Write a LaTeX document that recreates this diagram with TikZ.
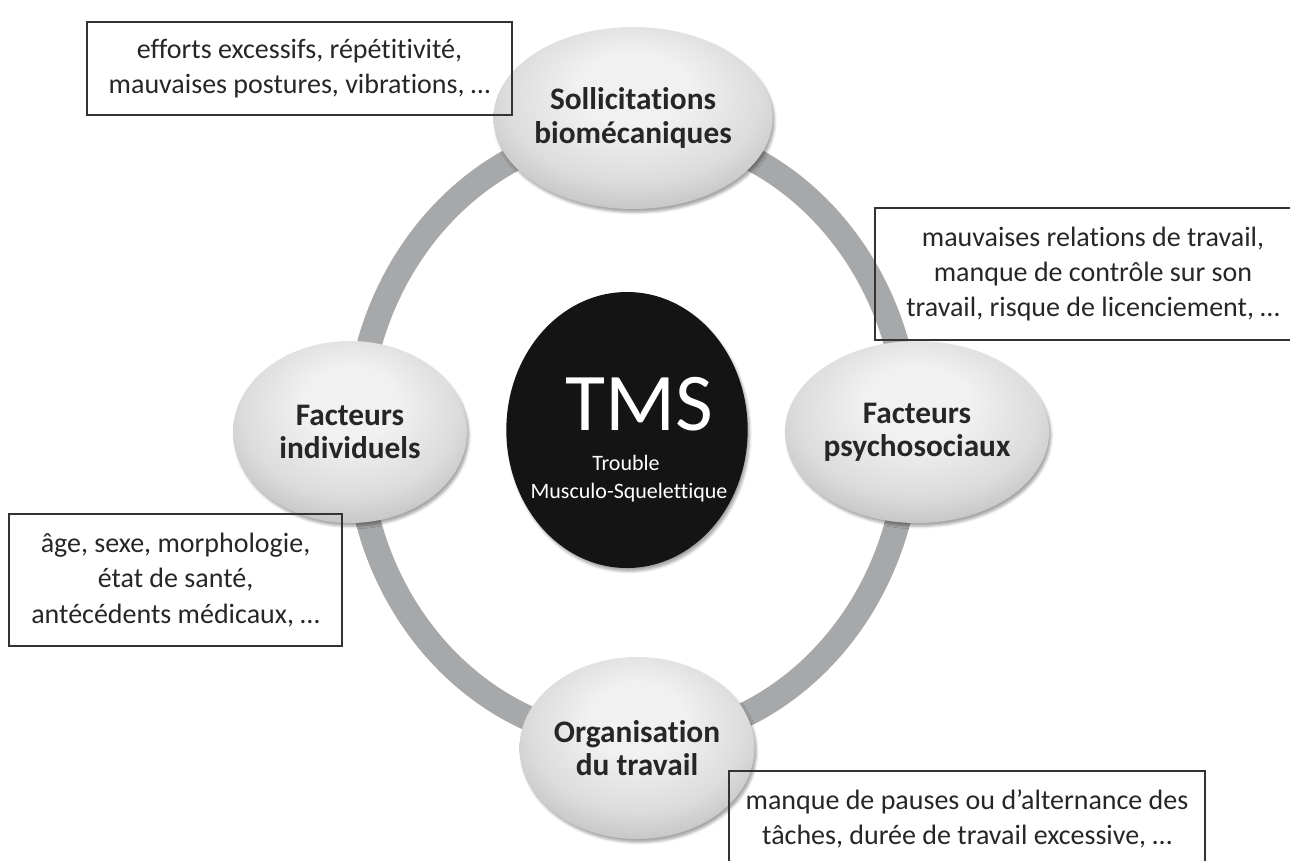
\documentclass[tikz,border=0pt]{standalone}
\usepackage{fontspec}
\setmainfont{Carlito}[Ligatures={NoCommon}]
\usepackage{xcolor}
\usepackage{tikz}
\usetikzlibrary{shapes.geometric,shadows.blur}
\definecolor{RingGray}{HTML}{A7A8AA}
\definecolor{TextDark}{HTML}{262626}
\definecolor{PearlHi}{HTML}{F1F1F1}
\definecolor{PearlMid}{HTML}{DCDCDC}
\definecolor{PearlLo}{HTML}{B4B4B4}
\definecolor{CoreBlack}{HTML}{141414}
\pgfdeclareradialshading{pearl}{\pgfpoint{0bp}{10bp}}{%
  color(0bp)=(PearlHi); color(10bp)=(PearlHi); color(23bp)=(PearlMid);
  color(35bp)=(PearlLo); color(50bp)=(PearlLo)}

\begin{document}
\begin{tikzpicture}[
  x=0.75pt,y=-0.75pt,
  font=\fontsize{21}{26.3}\selectfont,
  ring/.style={draw=RingGray,line width=18.75pt},
  factor/.style={ellipse,shading=pearl,minimum width=175.5pt,minimum height=136.5pt,
                 inner sep=0pt,align=center,text=TextDark,
                 font=\fontsize{23.5}{25}\selectfont\bfseries,
                 blur shadow={shadow xshift=1.5pt,shadow yshift=-2.5pt,shadow opacity=35}},
  core/.style={ellipse,fill=CoreBlack,minimum width=181pt,minimum height=207pt,inner sep=0pt,
               blur shadow={shadow xshift=1.5pt,shadow yshift=-2.5pt,shadow opacity=35}},
  coretxt/.style={text=white,inner sep=0pt,anchor=base},
  note/.style={draw=black!80,line width=0.9pt,align=center,text=TextDark,inner sep=0pt}
]
\useasboundingbox (0,0) rectangle (1290,861);

% ring linking the four factors
\draw[ring] (633,435) ellipse [x radius=207pt,y radius=229.5pt];

\node[factor] (bio) at (633,118) {Sollicitations\\biomécaniques};
\node[factor] (ind) at (350,432) {Facteurs\\individuels};
\node[factor] (psy) at (917,432) {Facteurs\\psychosociaux};
\node[factor] (org) at (637,748) {Organisation\\du travail};

\node[core] (tms) at (627,430) {};
\node[coretxt,font=\fontsize{61.5}{62}\selectfont] (tmsword) at (639,430) {TMS};
\node[coretxt,font=\fontsize{16.5}{20}\selectfont] (tmsline1) at (626,470) {Trouble};
\node[coretxt,font=\fontsize{16.5}{20}\selectfont] (tmsline2) at (629,498) {Musculo-Squelettique};

% examples for each factor
\node[note,minimum width=318.75pt,minimum height=69.75pt] (bionote) at (299.5,68.5)
  {efforts excessifs, répétitivité,\\mauvaises postures, vibrations, …};
\node[note,minimum width=327pt,minimum height=99pt] (psynote) at (1093,274)
  {mauvaises relations de travail,\\manque de contrôle sur son\\travail, risque de licenciement, …};
\node[note,minimum width=249.75pt,minimum height=99pt] (indnote) at (175.5,580)
  {âge, sexe, morphologie,\\état de santé,\\antécédents médicaux, …};
\node[note,minimum width=357pt,minimum height=71.25pt] (orgnote) at (967,818.5)
  {manque de pauses ou d’alternance des\\tâches, durée de travail excessive, …};
\end{tikzpicture}
\end{document}
